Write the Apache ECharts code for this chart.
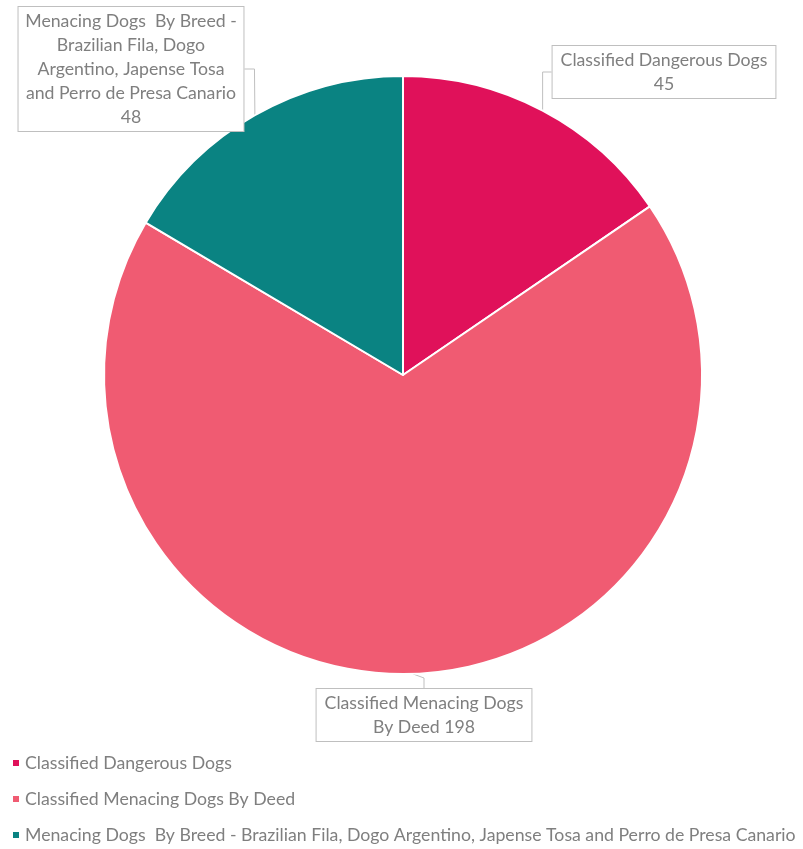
<!DOCTYPE html>
<html><head><meta charset="utf-8">
<script src="https://cdn.jsdelivr.net/npm/echarts@6/dist/echarts.min.js"></script>
<style>html,body{margin:0;padding:0;background:#fff}#c{width:803px;height:849px}</style>
</head><body><div id="c"></div>
<script>
const categories = [
  'Classified Dangerous Dogs',
  'Classified Menacing Dogs By Deed',
  'Menacing Dogs  By Breed - Brazilian Fila, Dogo Argentino, Japense Tosa and Perro de Presa Canario'
];
const values = [45, 198, 48];
const labelTexts = [
  'Classified Dangerous Dogs\n45',
  'Classified Menacing Dogs\nBy Deed 198',
  'Menacing Dogs  By Breed -\nBrazilian Fila, Dogo\nArgentino, Japense Tosa\nand Perro de Presa Canario\n48'
];
const colors = ['#E0115A', '#F05B72', '#0A8382'];
const labelPos = [[664, 72], [424, 715], [131, 69]];

const chart = echarts.init(document.getElementById('c'));
chart.setOption({
  animation: false,
  color: colors,
  legend: {
    orient: 'vertical', left: 11, top: 754, padding: 0, height: 95, width: 795,
    itemWidth: 8, itemHeight: 8, itemGap: 18, icon: 'rect',
    textStyle: { color: '#7f7f7f', fontSize: 17.7, fontFamily: 'Lato' },
    data: categories
  },
  series: [{
    type: 'pie',
    center: [403, 375], radius: 299,
    startAngle: 90, clockwise: true,
    itemStyle: { borderColor: '#fff', borderWidth: 2 },
    label: {
      show: true, position: 'outside', overflow: 'none',
      formatter: p => labelTexts[p.dataIndex],
      color: '#7f7f7f', fontSize: 17.7, fontFamily: 'Lato', lineHeight: 24,
      align: 'center',
      backgroundColor: '#fff', borderColor: '#bfbfbf', borderWidth: 1,
      padding: [2, 8]
    },
    labelLine: { show: true, lineStyle: { color: '#bfbfbf', width: 1 }, length: 10, length2: 10 },
    labelLayout: p => ({ x: labelPos[p.dataIndex][0], y: labelPos[p.dataIndex][1], align: 'center', verticalAlign: 'middle' }),
    data: categories.map((n, i) => ({ name: n, value: values[i] }))
  }]
});
</script></body></html>
